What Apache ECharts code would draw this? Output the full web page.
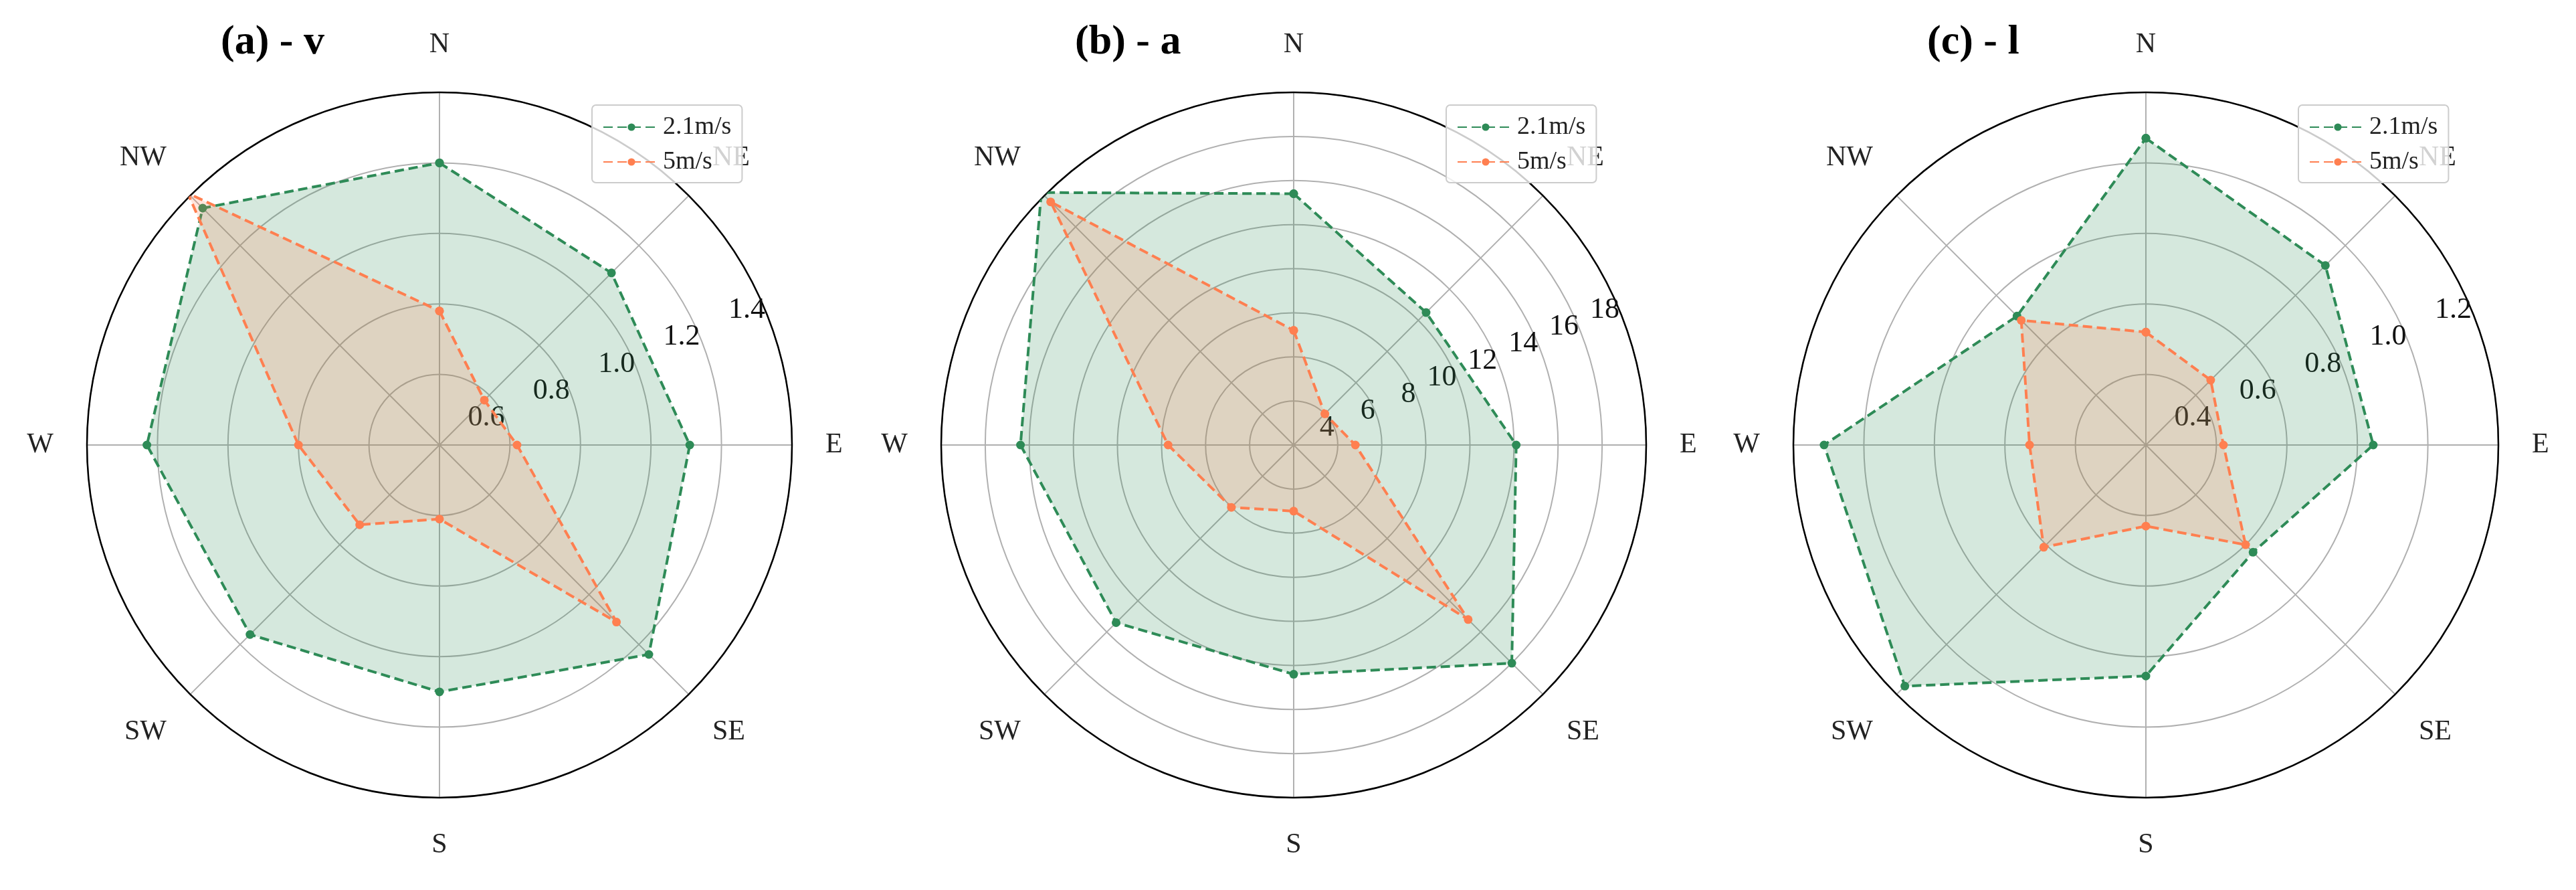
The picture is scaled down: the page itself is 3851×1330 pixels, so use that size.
<!DOCTYPE html>
<html>
<head>
<meta charset="utf-8">
<script src="https://cdn.jsdelivr.net/npm/echarts@6/dist/echarts.min.js"></script>
<style>html,body{margin:0;padding:0;background:#fff}#chart{width:3851px;height:1330px}</style>
</head>
<body>
<div id="chart"></div>
<script>
// directions, clockwise from north
const directions = ['N', 'NE', 'E', 'SE', 'S', 'SW', 'W', 'NW']
const dirAngles = [0, 45, 90, 135, 180, 225, 270, 315]
const seriesNames = ['2.1m/s', '5m/s']

const titles = ['(a) - v', '(b) - a', '(c) - l']
// radial ranges for each panel
const radMin = [0.4, 2, 0.2]
const radMax = [1.4, 18, 1.2]
const radStep = [0.2, 2, 0.2]

const vSlow = [1.2, 1.09, 1.11, 1.24, 1.1, 1.16, 1.23, 1.35]
const vFast = [0.78, 0.58, 0.62, 1.11, 0.61, 0.72, 0.8, 1.41]
const aSlow = [13.4, 10.5, 12.1, 16.0, 12.4, 13.4, 14.4, 18.2]
const aFast = [7.2, 4.0, 4.8, 13.2, 5.0, 6.0, 7.7, 17.6]
const lSlow = [1.07, 0.92, 0.845, 0.63, 0.855, 1.167, 1.113, 0.717]
const lFast = [0.52, 0.46, 0.42, 0.6, 0.43, 0.61, 0.53, 0.7]

const panelData = [[vSlow, vFast], [aSlow, aFast], [lSlow, lFast]]
const colors = ['#2e8b57', '#ff7f50']

const centersX = [657, 1934, 3208]
const centerY = 665
const R = 527
const SERIF = "'Liberation Serif', 'DejaVu Serif', serif"

const chart = echarts.init(document.getElementById('chart'))

const polar = [], angleAxis = [], radiusAxis = [], series = [], legend = [], title = []

centersX.forEach((cx, p) => {
  // main polar
  polar.push({ center: [cx, centerY], radius: R })
  angleAxis.push({
    polarIndex: 2 * p, type: 'value', min: 0, max: 360, interval: 45,
    startAngle: 90, clockwise: true,
    axisLine: { lineStyle: { color: '#000', width: 2.5 } },
    axisTick: { show: false },
    axisLabel: {
      margin: 50, showMaxLabel: false, color: '#222', fontFamily: SERIF, fontSize: 42,
      formatter: v => directions[dirAngles.indexOf(v % 360)]
    },
    splitLine: { lineStyle: { color: '#b0b0b0', width: 2 } }
  })
  radiusAxis.push({
    polarIndex: 2 * p, type: 'value', min: radMin[p], max: radMax[p], interval: radStep[p],
    axisLine: { show: false }, axisTick: { show: false }, axisLabel: { show: false },
    splitLine: { lineStyle: { color: '#b0b0b0', width: 2 } }
  })
  // label-only polar, rotated to 22.5 deg like matplotlib
  polar.push({ center: [cx, centerY], radius: R })
  angleAxis.push({
    polarIndex: 2 * p + 1, type: 'value', min: 0, max: 360, startAngle: 22.5,
    axisLine: { show: false }, axisTick: { show: false }, axisLabel: { show: false }, splitLine: { show: false }
  })
  radiusAxis.push({
    polarIndex: 2 * p + 1, type: 'value', min: radMin[p], max: radMax[p], interval: radStep[p],
    axisLine: { show: false }, axisTick: { show: false }, splitLine: { show: false },
    axisLabel: {
      showMinLabel: false, color: '#111', fontFamily: SERIF, fontSize: 44, margin: 0,
      formatter: v => radStep[p] < 1 ? v.toFixed(1) : String(v)
    }
  })

  panelData[p].forEach((vals, s) => {
    const pts = vals.map((v, i) => [v, dirAngles[i]])
    pts.push([vals[0], 360])
    series.push({
      type: 'line', name: seriesNames[s], coordinateSystem: 'polar', polarIndex: 2 * p,
      data: pts, symbol: 'circle', symbolSize: 13, z: 3 + s,
      lineStyle: { color: colors[s], width: 4, type: [14, 7] },
      itemStyle: { color: colors[s] },
      areaStyle: { color: colors[s], opacity: 0.2 }
    })
  })

  legend.push({
    left: cx + 228, top: 157, orient: 'vertical', itemGap: 14,
    itemWidth: 84, itemHeight: 14,
    backgroundColor: 'rgba(255,255,255,0.8)', borderColor: '#ccc', borderWidth: 2,
    borderRadius: 6, padding: [14, 16, 12, 16],
    textStyle: { fontFamily: SERIF, fontSize: 38, color: '#222' },
    data: seriesNames
  })
  title.push({
    text: titles[p], left: cx - 332, top: 28,
    textStyle: { fontFamily: SERIF, fontSize: 62, fontWeight: 'bold', color: '#000' }
  })
})

chart.setOption({ animation: false, title, legend, polar, angleAxis, radiusAxis, series })
</script>
</body>
</html>
